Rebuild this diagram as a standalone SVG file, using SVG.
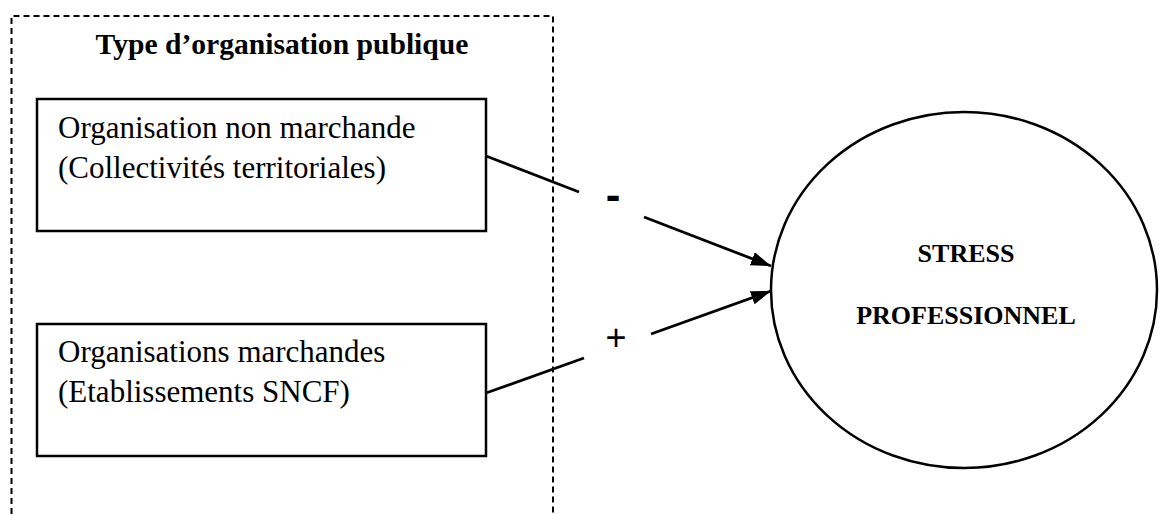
<svg xmlns="http://www.w3.org/2000/svg" width="1162" height="514" viewBox="0 0 1162 514">
  <style>
    .box { fill: #fff; stroke: #000; stroke-width: 2.5; }
    .frame { fill: none; stroke: #000; stroke-width: 2; stroke-dasharray: 6 4; }
    .label { font-family: "Liberation Serif", "Times New Roman", serif; font-size: 31px; fill: #000; }
    .title { font-family: "Liberation Serif", "Times New Roman", serif; font-size: 29.6px; font-weight: bold; fill: #000; }
    .core { font-family: "Liberation Serif", "Times New Roman", serif; font-size: 26px; font-weight: bold; fill: #000; }
    .sign { font-family: "Liberation Sans", Arial, sans-serif; fill: #000; }
    .link { fill: none; stroke: #000; stroke-width: 2.8; }
  </style>
  <defs>
    <marker id="arrow" markerUnits="userSpaceOnUse" markerWidth="22" markerHeight="16" refX="20" refY="7" orient="auto">
      <path d="M0,0 L20,7 L0,14 z" fill="#000"/>
    </marker>
  </defs>

  <rect width="1162" height="514" fill="#fff"/>

  <!-- group frame: public organisation type -->
  <g id="group-type">
    <path class="frame" d="M11.5,514 V16 H553 V514"/>
    <text class="title" x="282" y="54" text-anchor="middle">Type d’organisation publique</text>
  </g>

  <g id="node-non-marchande">
    <rect class="box" x="37" y="99" width="449" height="132"/>
    <text class="label" x="58" y="138">Organisation non marchande</text>
    <text class="label" x="58" y="178">(Collectivités territoriales)</text>
  </g>

  <g id="node-marchandes">
    <rect class="box" x="37" y="324" width="449" height="132"/>
    <text class="label" x="58" y="362">Organisations marchandes</text>
    <text class="label" x="58" y="402">(Etablissements SNCF)</text>
  </g>

  <g id="node-stress">
    <ellipse class="box" cx="964" cy="290" rx="193" ry="178" stroke-width="2.2"/>
    <text class="core" x="966" y="262" text-anchor="middle">STRESS</text>
    <text class="core" x="966" y="324" text-anchor="middle">PROFESSIONNEL</text>
  </g>

  <!-- connectors, each split around its sign label -->
  <g id="connectors">
    <line class="link" x1="486" y1="156" x2="579" y2="192"/>
    <line class="link" x1="644" y1="217" x2="771" y2="266" marker-end="url(#arrow)"/>
    <text class="sign" x="613" y="210" font-size="44" font-weight="bold" text-anchor="middle">-</text>

    <line class="link" x1="486" y1="393" x2="584" y2="358"/>
    <line class="link" x1="651" y1="334" x2="771" y2="291" marker-end="url(#arrow)"/>
    <text class="sign" x="616" y="350" font-size="36" text-anchor="middle">+</text>
  </g>
</svg>
